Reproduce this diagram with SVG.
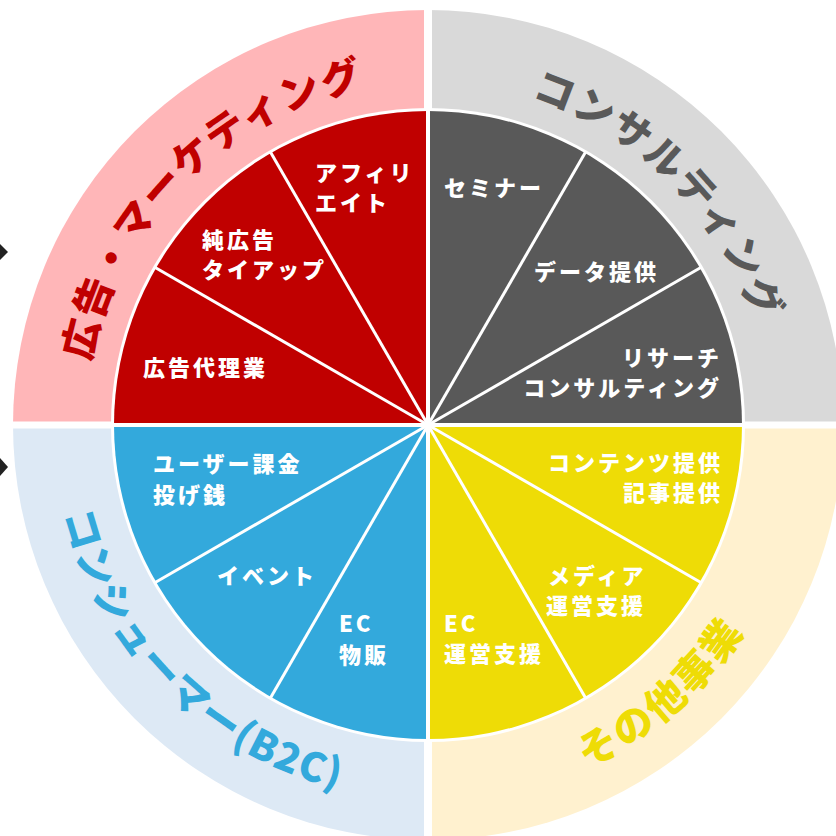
<svg xmlns="http://www.w3.org/2000/svg" width="836" height="836" viewBox="0 0 836 836">
<style>
.in{font-family:"Noto Sans CJK JP","Noto Sans",sans-serif;font-weight:900;font-size:22px;letter-spacing:3px;fill:#ffffff}
.out{font-family:"Noto Sans CJK JP","Noto Sans",sans-serif;font-weight:900;font-size:40px;letter-spacing:1.5px}
.div{stroke:#ffffff;stroke-width:3;fill:none}
</style>
<defs>
<path id="arcTL" d="M85,425 A343,343 0 0 1 428,82"/>
<path id="arcTR" d="M428,82 A343,343 0 0 1 771,425"/>
<path id="arcBL" d="M53,425 A375,375 0 0 0 428,800"/>
<path id="arcBR" d="M428,803 A378,378 0 0 0 806,425"/>
</defs>
<rect width="836" height="836" fill="#ffffff"/>
<g id="arrows" fill="#222222">
<polygon points="0,244 8,252 0,260"/>
<polygon points="0,458 8,467 0,476"/>
</g>
<g id="outer-ring">
<path d="M428,425 L13,425 A415,415 0 0 1 428,10 Z" fill="#FFB6B8"/>
<path d="M428,425 L428,10 A415,415 0 0 1 843,425 Z" fill="#D9D9D9"/>
<path d="M428,425 L428,840 A415,415 0 0 1 13,425 Z" fill="#DDE9F5"/>
<path d="M428,425 L843,425 A415,415 0 0 1 428,840 Z" fill="#FFF1CF"/>
<line x1="428" y1="0" x2="428" y2="836" stroke="#ffffff" stroke-width="8"/>
<line x1="0" y1="425" x2="836" y2="425" stroke="#ffffff" stroke-width="7"/>
<circle cx="428" cy="425" r="317" fill="#ffffff"/>
</g>
<g id="node-ad">
<path d="M428,425 L114,425 A314,314 0 0 1 428,111 Z" fill="#C00000"/>
<line class="div" x1="428" y1="425" x2="270" y2="151.3"/>
<line class="div" x1="428" y1="425" x2="154.3" y2="267"/>
<text class="out" fill="#C00000"><textPath href="#arcTL" startOffset="50%" text-anchor="middle">広告・マーケティング</textPath></text>
<text class="in" x="315" y="181">アフィリ</text>
<text class="in" x="315" y="211">エイト</text>
<text class="in" x="202" y="248">純広告</text>
<text class="in" x="202" y="278">タイアップ</text>
<text class="in" x="143" y="376">広告代理業</text>
</g>
<g id="node-consulting">
<path d="M428,425 L428,111 A314,314 0 0 1 742,425 Z" fill="#595959"/>
<line class="div" x1="428" y1="425" x2="586" y2="151.3"/>
<line class="div" x1="428" y1="425" x2="701.7" y2="267"/>
<text class="out" fill="#595959"><textPath href="#arcTR" startOffset="50%" text-anchor="middle">コンサルティング</textPath></text>
<text class="in" x="444" y="196">セミナー</text>
<text class="in" x="534" y="280">データ提供</text>
<text class="in" x="722" y="366" text-anchor="end">リサーチ</text>
<text class="in" x="722" y="396" text-anchor="end">コンサルティング</text>
</g>
<g id="node-consumer">
<path d="M428,425 L428,739 A314,314 0 0 1 114,425 Z" fill="#33A9DC"/>
<line class="div" x1="428" y1="425" x2="154.3" y2="583"/>
<line class="div" x1="428" y1="425" x2="270" y2="698.7"/>
<text class="out" fill="#33A9DC"><textPath href="#arcBL" startOffset="50%" text-anchor="middle">コンシューマー(B2C)</textPath></text>
<text class="in" x="153" y="472">ユーザー課金</text>
<text class="in" x="153" y="503">投げ銭</text>
<text class="in" x="217" y="584">イベント</text>
<text class="in" x="339" y="632">EC</text>
<text class="in" x="339" y="663">物販</text>
</g>
<g id="node-other">
<path d="M428,425 L742,425 A314,314 0 0 1 428,739 Z" fill="#EEDC06"/>
<line class="div" x1="428" y1="425" x2="701.7" y2="583"/>
<line class="div" x1="428" y1="425" x2="586" y2="698.7"/>
<text class="out" fill="#EEDC06" style="letter-spacing:2.5px"><textPath href="#arcBR" startOffset="45.5%" text-anchor="middle">その他事業</textPath></text>
<text class="in" x="723" y="471" text-anchor="end">コンテンツ提供</text>
<text class="in" x="723" y="501" text-anchor="end">記事提供</text>
<text class="in" x="548" y="584">メディア</text>
<text class="in" x="546" y="614">運営支援</text>
<text class="in" x="444" y="632">EC</text>
<text class="in" x="444" y="662">運営支援</text>
</g>
<g id="connectors">
<line x1="428" y1="111" x2="428" y2="739" stroke="#ffffff" stroke-width="4"/>
<line x1="114" y1="425" x2="742" y2="425" stroke="#ffffff" stroke-width="4"/>
</g>
</svg>
